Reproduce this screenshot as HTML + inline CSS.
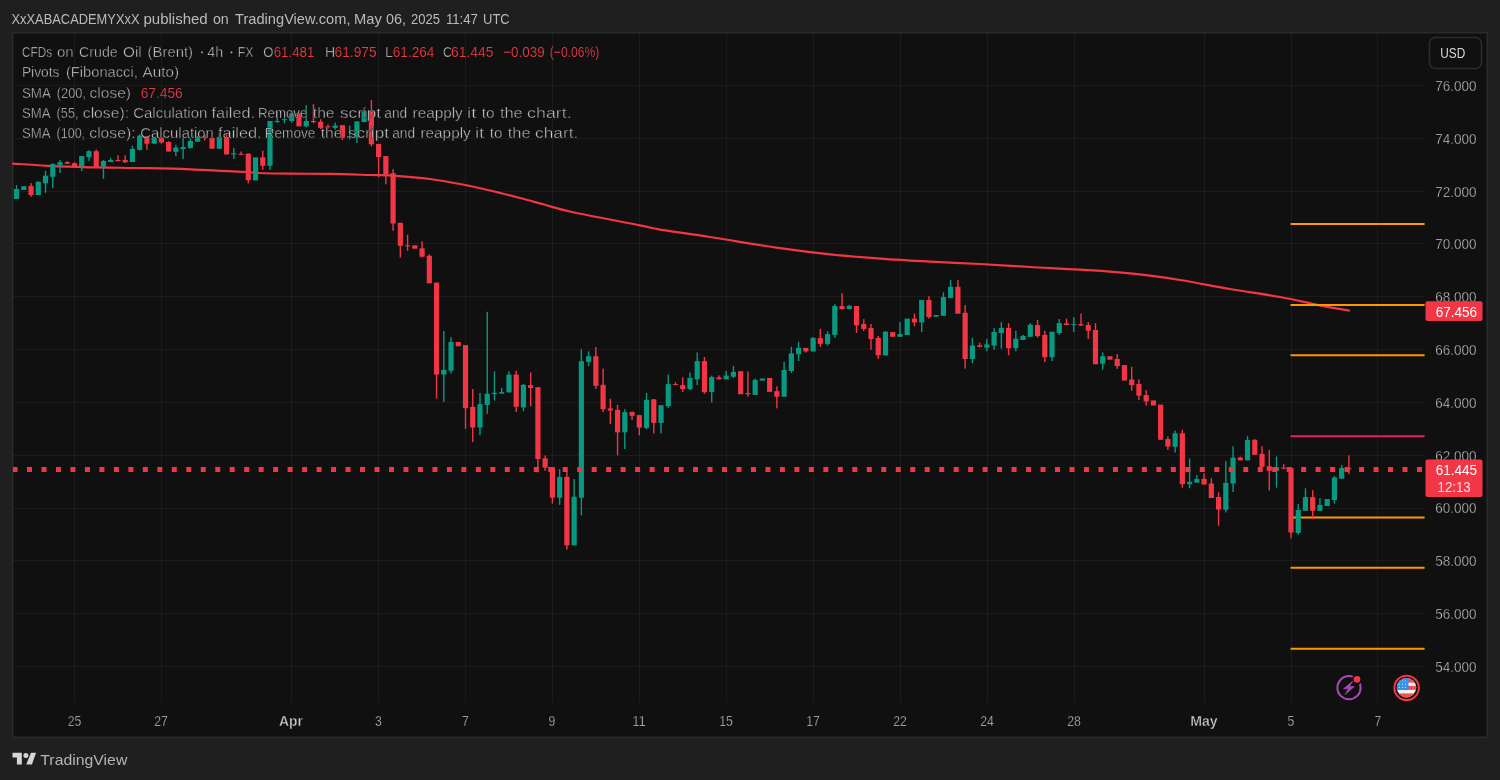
<!DOCTYPE html>
<html><head><meta charset="utf-8">
<style>
html,body{margin:0;padding:0;}
body{width:1500px;height:780px;background:#1f1f1f;position:relative;overflow:hidden;font-family:"Liberation Sans",sans-serif;}
svg{position:absolute;left:0;top:0;will-change:transform;}
</style></head><body>
<svg width="1500" height="780" viewBox="0 0 1500 780">
<rect x="12.6" y="32.6" width="1474.8" height="704.8" fill="#101010" stroke="#2a2a2a" stroke-width="1.8"/>
<g stroke="rgba(242,242,242,0.05)" stroke-width="1"><line x1="74.5" y1="33" x2="74.5" y2="703" /><line x1="161.5" y1="33" x2="161.5" y2="703" /><line x1="291.5" y1="33" x2="291.5" y2="703" /><line x1="378.5" y1="33" x2="378.5" y2="703" /><line x1="465.5" y1="33" x2="465.5" y2="703" /><line x1="552.5" y1="33" x2="552.5" y2="703" /><line x1="639.5" y1="33" x2="639.5" y2="703" /><line x1="726.5" y1="33" x2="726.5" y2="703" /><line x1="813.5" y1="33" x2="813.5" y2="703" /><line x1="900.5" y1="33" x2="900.5" y2="703" /><line x1="987.5" y1="33" x2="987.5" y2="703" /><line x1="1074.5" y1="33" x2="1074.5" y2="703" /><line x1="1204.5" y1="33" x2="1204.5" y2="703" /><line x1="1291.5" y1="33" x2="1291.5" y2="703" /><line x1="1377.5" y1="33" x2="1377.5" y2="703" /><line x1="13" y1="85.5" x2="1424" y2="85.5" /><line x1="13" y1="138.5" x2="1424" y2="138.5" /><line x1="13" y1="191.5" x2="1424" y2="191.5" /><line x1="13" y1="243.5" x2="1424" y2="243.5" /><line x1="13" y1="296.5" x2="1424" y2="296.5" /><line x1="13" y1="349.5" x2="1424" y2="349.5" /><line x1="13" y1="402.5" x2="1424" y2="402.5" /><line x1="13" y1="455.5" x2="1424" y2="455.5" /><line x1="13" y1="508.5" x2="1424" y2="508.5" /><line x1="13" y1="560.5" x2="1424" y2="560.5" /><line x1="13" y1="613.5" x2="1424" y2="613.5" /><line x1="13" y1="666.5" x2="1424" y2="666.5" /></g>
<path d="M13,163.6 C18.83,163.97 33.72,165.17 48,165.8 C62.28,166.43 83.92,167.03 98.7,167.4 C113.48,167.77 121.48,167.68 136.7,168 C151.92,168.32 171.83,168.63 190,169.3 C208.17,169.97 234.30,171.38 245.7,172 C257.10,172.62 250.80,172.72 258.4,173 C266.00,173.28 279.48,173.55 291.3,173.7 C303.12,173.85 316.18,173.68 329.3,173.9 C342.42,174.12 358.88,174.68 370,175 C381.12,175.32 386.00,175.13 396,175.8 C406.00,176.47 419.33,177.63 430,179 C440.67,180.37 450.00,182.08 460,184 C470.00,185.92 480.00,188.17 490,190.5 C500.00,192.83 510.83,195.62 520,198 C529.17,200.38 536.33,202.47 545,204.8 C553.67,207.13 556.17,208.57 572,212 C587.83,215.43 625.33,222.47 640,225.4 C654.67,228.33 648.33,227.67 660,229.6 C671.67,231.53 690.00,233.90 710,237 C730.00,240.10 760.00,245.30 780,248.2 C800.00,251.10 813.33,252.67 830,254.4 C846.67,256.13 863.33,257.40 880,258.6 C896.67,259.80 913.33,260.70 930,261.6 C946.67,262.50 963.33,263.10 980,264 C996.67,264.90 1013.33,266.05 1030,267 C1046.67,267.95 1063.33,268.63 1080,269.7 C1096.67,270.77 1113.33,271.68 1130,273.4 C1146.67,275.12 1163.33,277.40 1180,280 C1196.67,282.60 1213.33,286.17 1230,289 C1246.67,291.83 1265.00,294.27 1280,297 C1295.00,299.73 1308.50,303.13 1320,305.4 C1331.50,307.67 1344.17,309.73 1349,310.6" fill="none" stroke="#f23645" stroke-width="2.2" stroke-linejoin="round" stroke-linecap="round"/>
<line x1="1290.5" y1="224" x2="1424.6" y2="224" stroke="#ff9800" stroke-width="2"/><line x1="1290.5" y1="305" x2="1424.6" y2="305" stroke="#ff9800" stroke-width="2"/><line x1="1290.5" y1="355.2" x2="1424.6" y2="355.2" stroke="#ff9800" stroke-width="2"/><line x1="1290.5" y1="436.3" x2="1424.6" y2="436.3" stroke="#e91e63" stroke-width="2"/><line x1="1290.5" y1="517.4" x2="1424.6" y2="517.4" stroke="#ff9800" stroke-width="2"/><line x1="1290.5" y1="567.7" x2="1424.6" y2="567.7" stroke="#ff9800" stroke-width="2"/><line x1="1290.5" y1="648.7" x2="1424.6" y2="648.7" stroke="#ff9800" stroke-width="2"/>
<rect x="15.87" y="185.1" width="1.4" height="13.9" fill="#089981"/><rect x="13.97" y="189.0" width="5.2" height="10.0" fill="#089981"/><rect x="21.21" y="186.2" width="5.2" height="3.8" fill="#089981"/><rect x="30.35" y="183.1" width="1.4" height="13.8" fill="#f23645"/><rect x="28.45" y="186.1" width="5.2" height="8.9" fill="#f23645"/><rect x="37.59" y="181.2" width="1.4" height="13.8" fill="#089981"/><rect x="35.69" y="181.9" width="5.2" height="13.1" fill="#089981"/><rect x="44.83" y="170.9" width="1.4" height="21.9" fill="#089981"/><rect x="42.93" y="175.7" width="5.2" height="7.6" fill="#089981"/><rect x="52.07" y="163.2" width="1.4" height="24.8" fill="#089981"/><rect x="50.17" y="164.0" width="5.2" height="12.8" fill="#089981"/><rect x="59.32" y="160.0" width="1.4" height="13.0" fill="#089981"/><rect x="57.42" y="162.2" width="5.2" height="2.8" fill="#089981"/><rect x="66.56" y="161.2" width="1.4" height="2.8" fill="#f23645"/><rect x="64.66" y="162.2" width="5.2" height="1.6" fill="#f23645"/><rect x="73.80" y="162.2" width="1.4" height="4.0" fill="#f23645"/><rect x="71.90" y="163.2" width="5.2" height="3.0" fill="#f23645"/><rect x="81.04" y="155.8" width="1.4" height="15.2" fill="#089981"/><rect x="79.14" y="156.2" width="5.2" height="10.0" fill="#089981"/><rect x="88.28" y="150.2" width="1.4" height="10.8" fill="#089981"/><rect x="86.38" y="151.2" width="5.2" height="6.0" fill="#089981"/><rect x="95.52" y="149.5" width="1.4" height="17.3" fill="#f23645"/><rect x="93.62" y="151.2" width="5.2" height="15.6" fill="#f23645"/><rect x="102.76" y="160.0" width="1.4" height="18.8" fill="#089981"/><rect x="100.86" y="161.0" width="5.2" height="5.8" fill="#089981"/><rect x="110.00" y="158.0" width="1.4" height="4.0" fill="#089981"/><rect x="108.10" y="160.0" width="5.2" height="2.0" fill="#089981"/><rect x="117.24" y="155.2" width="1.4" height="6.0" fill="#f23645"/><rect x="115.34" y="160.0" width="5.2" height="1.2" fill="#f23645"/><rect x="124.48" y="155.2" width="1.4" height="7.8" fill="#f23645"/><rect x="122.59" y="160.0" width="5.2" height="2.2" fill="#f23645"/><rect x="131.73" y="145.8" width="1.4" height="16.2" fill="#089981"/><rect x="129.83" y="148.8" width="5.2" height="13.2" fill="#089981"/><rect x="138.97" y="134.2" width="1.4" height="16.4" fill="#089981"/><rect x="137.07" y="135.6" width="5.2" height="14.2" fill="#089981"/><rect x="146.21" y="136.0" width="1.4" height="13.8" fill="#f23645"/><rect x="144.31" y="137.1" width="5.2" height="6.6" fill="#f23645"/><rect x="151.55" y="137.7" width="5.2" height="6.0" fill="#089981"/><rect x="160.69" y="137.5" width="1.4" height="6.2" fill="#f23645"/><rect x="158.79" y="137.5" width="5.2" height="5.0" fill="#f23645"/><rect x="167.93" y="141.2" width="1.4" height="10.3" fill="#f23645"/><rect x="166.03" y="142.0" width="5.2" height="9.5" fill="#f23645"/><rect x="175.17" y="144.8" width="1.4" height="11.4" fill="#089981"/><rect x="173.27" y="147.5" width="5.2" height="4.3" fill="#089981"/><rect x="182.41" y="137.9" width="1.4" height="21.1" fill="#089981"/><rect x="180.51" y="147.0" width="5.2" height="2.0" fill="#089981"/><rect x="189.65" y="138.3" width="1.4" height="10.4" fill="#089981"/><rect x="187.75" y="140.9" width="5.2" height="7.1" fill="#089981"/><rect x="196.89" y="136.0" width="1.4" height="5.7" fill="#089981"/><rect x="194.99" y="137.1" width="5.2" height="4.6" fill="#089981"/><rect x="204.14" y="134.5" width="1.4" height="6.1" fill="#f23645"/><rect x="202.24" y="137.1" width="5.2" height="1.0" fill="#f23645"/><rect x="209.48" y="137.9" width="5.2" height="10.8" fill="#f23645"/><rect x="218.62" y="133.0" width="1.4" height="15.7" fill="#089981"/><rect x="216.72" y="137.1" width="5.2" height="11.6" fill="#089981"/><rect x="225.86" y="134.2" width="1.4" height="20.2" fill="#f23645"/><rect x="223.96" y="137.1" width="5.2" height="17.3" fill="#f23645"/><rect x="233.10" y="147.8" width="1.4" height="11.2" fill="#089981"/><rect x="231.20" y="153.3" width="5.2" height="1.1" fill="#089981"/><rect x="240.34" y="151.5" width="1.4" height="3.3" fill="#f23645"/><rect x="238.44" y="153.8" width="5.2" height="1.0" fill="#f23645"/><rect x="247.58" y="153.6" width="1.4" height="29.7" fill="#f23645"/><rect x="245.68" y="153.6" width="5.2" height="26.6" fill="#f23645"/><rect x="252.92" y="157.3" width="5.2" height="23.1" fill="#089981"/><rect x="262.06" y="150.6" width="1.4" height="19.2" fill="#f23645"/><rect x="260.16" y="157.3" width="5.2" height="8.5" fill="#f23645"/><rect x="269.31" y="121.0" width="1.4" height="48.8" fill="#089981"/><rect x="267.40" y="121.0" width="5.2" height="44.8" fill="#089981"/><rect x="276.55" y="111.2" width="1.4" height="11.5" fill="#089981"/><rect x="274.65" y="121.0" width="5.2" height="1.1" fill="#089981"/><rect x="283.79" y="117.5" width="1.4" height="5.8" fill="#089981"/><rect x="281.89" y="119.2" width="5.2" height="1.0" fill="#089981"/><rect x="291.03" y="112.3" width="1.4" height="10.4" fill="#089981"/><rect x="289.13" y="113.5" width="5.2" height="7.5" fill="#089981"/><rect x="296.37" y="113.2" width="5.2" height="13.2" fill="#f23645"/><rect x="305.51" y="105.2" width="1.4" height="22.1" fill="#089981"/><rect x="303.61" y="121.0" width="5.2" height="5.4" fill="#089981"/><rect x="312.75" y="104.2" width="1.4" height="19.1" fill="#f23645"/><rect x="310.85" y="121.0" width="5.2" height="1.1" fill="#f23645"/><rect x="319.99" y="119.2" width="1.4" height="9.8" fill="#f23645"/><rect x="318.09" y="121.8" width="5.2" height="6.1" fill="#f23645"/><rect x="327.23" y="124.4" width="1.4" height="4.1" fill="#f23645"/><rect x="325.33" y="126.2" width="5.2" height="1.0" fill="#f23645"/><rect x="334.47" y="122.5" width="1.4" height="7.1" fill="#089981"/><rect x="332.57" y="125.6" width="5.2" height="2.3" fill="#089981"/><rect x="341.71" y="125.2" width="1.4" height="14.8" fill="#f23645"/><rect x="339.81" y="125.2" width="5.2" height="12.5" fill="#f23645"/><rect x="348.96" y="125.6" width="1.4" height="13.8" fill="#089981"/><rect x="347.06" y="136.0" width="5.2" height="1.7" fill="#089981"/><rect x="356.20" y="121.0" width="1.4" height="21.9" fill="#089981"/><rect x="354.30" y="121.5" width="5.2" height="16.0" fill="#089981"/><rect x="363.44" y="107.7" width="1.4" height="14.4" fill="#089981"/><rect x="361.54" y="111.2" width="5.2" height="10.9" fill="#089981"/><rect x="370.68" y="100.2" width="1.4" height="46.3" fill="#f23645"/><rect x="368.78" y="111.2" width="5.2" height="33.1" fill="#f23645"/><rect x="377.92" y="143.9" width="1.4" height="33.4" fill="#f23645"/><rect x="376.02" y="143.9" width="5.2" height="13.1" fill="#f23645"/><rect x="385.16" y="156.1" width="1.4" height="28.2" fill="#f23645"/><rect x="383.26" y="156.1" width="5.2" height="18.3" fill="#f23645"/><rect x="392.40" y="169.2" width="1.4" height="61.6" fill="#f23645"/><rect x="390.50" y="173.2" width="5.2" height="50.3" fill="#f23645"/><rect x="399.64" y="222.8" width="1.4" height="34.7" fill="#f23645"/><rect x="397.74" y="222.8" width="5.2" height="23.0" fill="#f23645"/><rect x="406.88" y="234.7" width="1.4" height="16.1" fill="#f23645"/><rect x="404.98" y="245.3" width="5.2" height="1.0" fill="#f23645"/><rect x="412.22" y="245.3" width="5.2" height="3.4" fill="#f23645"/><rect x="421.37" y="241.3" width="1.4" height="16.2" fill="#f23645"/><rect x="419.47" y="248.3" width="5.2" height="8.4" fill="#f23645"/><rect x="428.61" y="254.2" width="1.4" height="29.1" fill="#f23645"/><rect x="426.71" y="255.8" width="5.2" height="27.5" fill="#f23645"/><rect x="435.85" y="282.6" width="1.4" height="115.9" fill="#f23645"/><rect x="433.95" y="282.6" width="5.2" height="92.0" fill="#f23645"/><rect x="443.09" y="331.0" width="1.4" height="70.8" fill="#089981"/><rect x="441.19" y="369.8" width="5.2" height="4.8" fill="#089981"/><rect x="450.33" y="337.1" width="1.4" height="36.4" fill="#089981"/><rect x="448.43" y="341.9" width="5.2" height="28.8" fill="#089981"/><rect x="455.67" y="341.9" width="5.2" height="4.4" fill="#f23645"/><rect x="464.81" y="345.2" width="1.4" height="83.6" fill="#f23645"/><rect x="462.91" y="345.2" width="5.2" height="63.0" fill="#f23645"/><rect x="472.05" y="389.0" width="1.4" height="53.0" fill="#f23645"/><rect x="470.15" y="406.9" width="5.2" height="20.6" fill="#f23645"/><rect x="479.29" y="393.0" width="1.4" height="42.2" fill="#089981"/><rect x="477.39" y="404.1" width="5.2" height="23.4" fill="#089981"/><rect x="486.53" y="311.8" width="1.4" height="102.1" fill="#089981"/><rect x="484.63" y="393.8" width="5.2" height="11.2" fill="#089981"/><rect x="493.78" y="371.3" width="1.4" height="29.3" fill="#089981"/><rect x="491.88" y="392.8" width="5.2" height="1.2" fill="#089981"/><rect x="501.02" y="387.8" width="1.4" height="5.8" fill="#089981"/><rect x="499.12" y="392.1" width="5.2" height="1.5" fill="#089981"/><rect x="508.26" y="371.3" width="1.4" height="21.1" fill="#089981"/><rect x="506.36" y="374.6" width="5.2" height="17.8" fill="#089981"/><rect x="515.50" y="370.7" width="1.4" height="41.3" fill="#f23645"/><rect x="513.60" y="374.6" width="5.2" height="32.2" fill="#f23645"/><rect x="522.74" y="384.0" width="1.4" height="27.2" fill="#089981"/><rect x="520.84" y="384.9" width="5.2" height="22.5" fill="#089981"/><rect x="529.98" y="372.4" width="1.4" height="33.9" fill="#f23645"/><rect x="528.08" y="385.1" width="5.2" height="2.9" fill="#f23645"/><rect x="537.22" y="387.2" width="1.4" height="85.2" fill="#f23645"/><rect x="535.32" y="387.2" width="5.2" height="71.9" fill="#f23645"/><rect x="544.46" y="455.5" width="1.4" height="15.5" fill="#f23645"/><rect x="542.56" y="458.4" width="5.2" height="9.3" fill="#f23645"/><rect x="551.70" y="467.2" width="1.4" height="36.4" fill="#f23645"/><rect x="549.80" y="467.2" width="5.2" height="30.5" fill="#f23645"/><rect x="558.94" y="469.2" width="1.4" height="35.6" fill="#089981"/><rect x="557.04" y="477.1" width="5.2" height="20.6" fill="#089981"/><rect x="566.19" y="471.0" width="1.4" height="78.7" fill="#f23645"/><rect x="564.29" y="476.8" width="5.2" height="68.5" fill="#f23645"/><rect x="573.43" y="479.0" width="1.4" height="66.3" fill="#089981"/><rect x="571.53" y="496.7" width="5.2" height="48.6" fill="#089981"/><rect x="580.67" y="349.2" width="1.4" height="166.2" fill="#089981"/><rect x="578.77" y="361.2" width="5.2" height="136.5" fill="#089981"/><rect x="587.91" y="351.3" width="1.4" height="14.8" fill="#089981"/><rect x="586.01" y="356.2" width="5.2" height="5.7" fill="#089981"/><rect x="595.15" y="347.0" width="1.4" height="42.1" fill="#f23645"/><rect x="593.25" y="356.2" width="5.2" height="29.6" fill="#f23645"/><rect x="602.39" y="368.6" width="1.4" height="43.5" fill="#f23645"/><rect x="600.49" y="384.8" width="5.2" height="24.4" fill="#f23645"/><rect x="609.63" y="398.8" width="1.4" height="25.1" fill="#f23645"/><rect x="607.73" y="408.4" width="5.2" height="2.2" fill="#f23645"/><rect x="616.87" y="404.7" width="1.4" height="50.6" fill="#f23645"/><rect x="614.97" y="409.9" width="5.2" height="22.4" fill="#f23645"/><rect x="624.11" y="409.2" width="1.4" height="39.8" fill="#089981"/><rect x="622.21" y="412.1" width="5.2" height="20.2" fill="#089981"/><rect x="631.36" y="411.4" width="1.4" height="8.5" fill="#f23645"/><rect x="629.46" y="412.1" width="5.2" height="3.7" fill="#f23645"/><rect x="638.60" y="415.1" width="1.4" height="20.2" fill="#f23645"/><rect x="636.70" y="415.1" width="5.2" height="12.5" fill="#f23645"/><rect x="645.84" y="393.0" width="1.4" height="36.4" fill="#089981"/><rect x="643.94" y="399.9" width="5.2" height="28.0" fill="#089981"/><rect x="653.08" y="399.3" width="1.4" height="34.2" fill="#f23645"/><rect x="651.18" y="399.3" width="5.2" height="23.6" fill="#f23645"/><rect x="660.32" y="405.2" width="1.4" height="28.3" fill="#089981"/><rect x="658.42" y="405.2" width="5.2" height="17.7" fill="#089981"/><rect x="667.56" y="374.5" width="1.4" height="33.6" fill="#089981"/><rect x="665.66" y="384.1" width="5.2" height="22.1" fill="#089981"/><rect x="674.80" y="382.2" width="1.4" height="2.9" fill="#f23645"/><rect x="672.90" y="384.1" width="5.2" height="1.0" fill="#f23645"/><rect x="682.04" y="377.2" width="1.4" height="14.7" fill="#f23645"/><rect x="680.14" y="385.1" width="5.2" height="3.9" fill="#f23645"/><rect x="689.28" y="372.5" width="1.4" height="17.5" fill="#089981"/><rect x="687.38" y="378.0" width="5.2" height="11.1" fill="#089981"/><rect x="696.52" y="352.4" width="1.4" height="32.7" fill="#089981"/><rect x="694.62" y="361.1" width="5.2" height="18.2" fill="#089981"/><rect x="703.76" y="357.0" width="1.4" height="36.8" fill="#f23645"/><rect x="701.87" y="361.1" width="5.2" height="31.1" fill="#f23645"/><rect x="711.01" y="375.6" width="1.4" height="26.9" fill="#089981"/><rect x="709.11" y="377.1" width="5.2" height="14.8" fill="#089981"/><rect x="718.25" y="375.3" width="1.4" height="4.0" fill="#f23645"/><rect x="716.35" y="377.4" width="5.2" height="1.9" fill="#f23645"/><rect x="725.49" y="370.9" width="1.4" height="8.4" fill="#089981"/><rect x="723.59" y="375.6" width="5.2" height="3.7" fill="#089981"/><rect x="732.73" y="366.0" width="1.4" height="12.0" fill="#089981"/><rect x="730.83" y="372.0" width="5.2" height="4.7" fill="#089981"/><rect x="738.07" y="371.2" width="5.2" height="23.1" fill="#f23645"/><rect x="747.21" y="371.4" width="1.4" height="25.3" fill="#f23645"/><rect x="745.31" y="393.0" width="5.2" height="1.1" fill="#f23645"/><rect x="754.45" y="378.5" width="1.4" height="16.4" fill="#089981"/><rect x="752.55" y="380.0" width="5.2" height="14.9" fill="#089981"/><rect x="759.79" y="378.5" width="5.2" height="2.2" fill="#089981"/><rect x="767.03" y="378.0" width="5.2" height="13.9" fill="#f23645"/><rect x="776.17" y="386.2" width="1.4" height="22.1" fill="#f23645"/><rect x="774.27" y="391.1" width="5.2" height="5.6" fill="#f23645"/><rect x="783.42" y="361.8" width="1.4" height="34.9" fill="#089981"/><rect x="781.52" y="370.0" width="5.2" height="26.7" fill="#089981"/><rect x="790.66" y="346.8" width="1.4" height="26.0" fill="#089981"/><rect x="788.76" y="353.4" width="5.2" height="17.6" fill="#089981"/><rect x="797.90" y="341.8" width="1.4" height="19.2" fill="#089981"/><rect x="796.00" y="347.9" width="5.2" height="6.4" fill="#089981"/><rect x="805.14" y="347.9" width="1.4" height="4.7" fill="#f23645"/><rect x="803.24" y="347.9" width="5.2" height="3.5" fill="#f23645"/><rect x="812.38" y="337.0" width="1.4" height="14.4" fill="#089981"/><rect x="810.48" y="337.9" width="5.2" height="13.5" fill="#089981"/><rect x="819.62" y="328.9" width="1.4" height="17.9" fill="#f23645"/><rect x="817.72" y="338.1" width="5.2" height="5.8" fill="#f23645"/><rect x="826.86" y="331.2" width="1.4" height="14.4" fill="#089981"/><rect x="824.96" y="334.1" width="5.2" height="9.8" fill="#089981"/><rect x="834.10" y="304.1" width="1.4" height="33.8" fill="#089981"/><rect x="832.20" y="306.0" width="5.2" height="28.9" fill="#089981"/><rect x="841.34" y="293.1" width="1.4" height="16.7" fill="#f23645"/><rect x="839.44" y="306.0" width="5.2" height="3.0" fill="#f23645"/><rect x="848.58" y="304.9" width="1.4" height="4.1" fill="#089981"/><rect x="846.68" y="305.8" width="5.2" height="3.2" fill="#089981"/><rect x="855.83" y="306.0" width="1.4" height="26.9" fill="#f23645"/><rect x="853.93" y="306.0" width="5.2" height="19.4" fill="#f23645"/><rect x="863.07" y="319.1" width="1.4" height="11.9" fill="#f23645"/><rect x="861.17" y="324.0" width="5.2" height="4.9" fill="#f23645"/><rect x="870.31" y="324.0" width="1.4" height="25.7" fill="#f23645"/><rect x="868.41" y="328.0" width="5.2" height="11.0" fill="#f23645"/><rect x="877.55" y="335.8" width="1.4" height="23.1" fill="#f23645"/><rect x="875.65" y="337.9" width="5.2" height="17.3" fill="#f23645"/><rect x="884.79" y="331.0" width="1.4" height="24.4" fill="#089981"/><rect x="882.89" y="331.8" width="5.2" height="23.6" fill="#089981"/><rect x="890.13" y="332.1" width="5.2" height="4.7" fill="#f23645"/><rect x="899.27" y="322.2" width="1.4" height="14.6" fill="#089981"/><rect x="897.37" y="334.0" width="5.2" height="2.8" fill="#089981"/><rect x="904.61" y="318.6" width="5.2" height="16.4" fill="#089981"/><rect x="913.75" y="313.5" width="1.4" height="12.8" fill="#f23645"/><rect x="911.85" y="318.6" width="5.2" height="3.8" fill="#f23645"/><rect x="921.00" y="300.0" width="1.4" height="32.1" fill="#089981"/><rect x="919.10" y="300.0" width="5.2" height="22.4" fill="#089981"/><rect x="928.24" y="296.2" width="1.4" height="22.4" fill="#f23645"/><rect x="926.34" y="300.0" width="5.2" height="17.1" fill="#f23645"/><rect x="933.58" y="315.0" width="5.2" height="1.7" fill="#089981"/><rect x="942.72" y="292.3" width="1.4" height="23.5" fill="#089981"/><rect x="940.82" y="297.1" width="5.2" height="18.7" fill="#089981"/><rect x="949.96" y="279.9" width="1.4" height="18.2" fill="#089981"/><rect x="948.06" y="286.8" width="5.2" height="11.3" fill="#089981"/><rect x="957.20" y="279.9" width="1.4" height="33.8" fill="#f23645"/><rect x="955.30" y="286.8" width="5.2" height="26.9" fill="#f23645"/><rect x="964.44" y="305.1" width="1.4" height="63.5" fill="#f23645"/><rect x="962.54" y="312.8" width="5.2" height="46.2" fill="#f23645"/><rect x="971.68" y="337.8" width="1.4" height="25.4" fill="#089981"/><rect x="969.78" y="345.5" width="5.2" height="13.5" fill="#089981"/><rect x="978.92" y="342.7" width="1.4" height="4.7" fill="#f23645"/><rect x="977.02" y="345.3" width="5.2" height="1.5" fill="#f23645"/><rect x="986.16" y="338.8" width="1.4" height="12.5" fill="#089981"/><rect x="984.26" y="344.4" width="5.2" height="3.3" fill="#089981"/><rect x="993.40" y="327.9" width="1.4" height="21.8" fill="#089981"/><rect x="991.50" y="332.0" width="5.2" height="13.6" fill="#089981"/><rect x="1000.65" y="322.1" width="1.4" height="26.6" fill="#089981"/><rect x="998.75" y="327.9" width="5.2" height="5.1" fill="#089981"/><rect x="1007.89" y="323.1" width="1.4" height="32.3" fill="#f23645"/><rect x="1005.99" y="327.9" width="5.2" height="20.3" fill="#f23645"/><rect x="1015.13" y="330.8" width="1.4" height="20.5" fill="#089981"/><rect x="1013.23" y="338.8" width="5.2" height="9.4" fill="#089981"/><rect x="1022.37" y="334.9" width="1.4" height="5.1" fill="#089981"/><rect x="1020.47" y="335.9" width="5.2" height="4.1" fill="#089981"/><rect x="1029.61" y="323.1" width="1.4" height="13.8" fill="#089981"/><rect x="1027.71" y="324.8" width="5.2" height="12.1" fill="#089981"/><rect x="1036.85" y="320.0" width="1.4" height="17.7" fill="#f23645"/><rect x="1034.95" y="325.1" width="5.2" height="11.0" fill="#f23645"/><rect x="1044.09" y="330.8" width="1.4" height="31.3" fill="#f23645"/><rect x="1042.19" y="334.9" width="5.2" height="22.3" fill="#f23645"/><rect x="1051.33" y="331.8" width="1.4" height="29.2" fill="#089981"/><rect x="1049.43" y="331.8" width="5.2" height="25.4" fill="#089981"/><rect x="1058.57" y="319.0" width="1.4" height="15.9" fill="#089981"/><rect x="1056.67" y="323.1" width="5.2" height="9.9" fill="#089981"/><rect x="1065.81" y="318.5" width="1.4" height="6.6" fill="#f23645"/><rect x="1063.91" y="323.4" width="5.2" height="1.7" fill="#f23645"/><rect x="1073.06" y="317.4" width="1.4" height="14.6" fill="#089981"/><rect x="1071.16" y="324.1" width="5.2" height="1.0" fill="#089981"/><rect x="1080.30" y="313.5" width="1.4" height="12.7" fill="#f23645"/><rect x="1078.40" y="324.1" width="5.2" height="1.3" fill="#f23645"/><rect x="1087.54" y="322.1" width="1.4" height="16.9" fill="#f23645"/><rect x="1085.64" y="325.1" width="5.2" height="5.7" fill="#f23645"/><rect x="1094.78" y="323.1" width="1.4" height="41.1" fill="#f23645"/><rect x="1092.88" y="330.0" width="5.2" height="34.2" fill="#f23645"/><rect x="1102.02" y="352.4" width="1.4" height="17.2" fill="#089981"/><rect x="1100.12" y="356.2" width="5.2" height="7.5" fill="#089981"/><rect x="1107.36" y="356.2" width="5.2" height="3.5" fill="#f23645"/><rect x="1116.50" y="354.1" width="1.4" height="14.8" fill="#f23645"/><rect x="1114.60" y="359.0" width="5.2" height="7.1" fill="#f23645"/><rect x="1121.84" y="365.1" width="5.2" height="15.5" fill="#f23645"/><rect x="1130.98" y="366.8" width="1.4" height="24.0" fill="#f23645"/><rect x="1129.08" y="379.5" width="5.2" height="5.6" fill="#f23645"/><rect x="1138.22" y="379.5" width="1.4" height="20.5" fill="#f23645"/><rect x="1136.33" y="384.0" width="5.2" height="11.7" fill="#f23645"/><rect x="1145.47" y="390.1" width="1.4" height="15.5" fill="#f23645"/><rect x="1143.57" y="395.0" width="5.2" height="6.4" fill="#f23645"/><rect x="1150.81" y="400.4" width="5.2" height="5.2" fill="#f23645"/><rect x="1158.05" y="404.6" width="5.2" height="35.2" fill="#f23645"/><rect x="1167.19" y="436.4" width="1.4" height="13.5" fill="#f23645"/><rect x="1165.29" y="439.1" width="5.2" height="7.4" fill="#f23645"/><rect x="1174.43" y="430.7" width="1.4" height="21.9" fill="#089981"/><rect x="1172.53" y="433.3" width="5.2" height="13.5" fill="#089981"/><rect x="1181.67" y="429.7" width="1.4" height="57.9" fill="#f23645"/><rect x="1179.77" y="433.3" width="5.2" height="50.9" fill="#f23645"/><rect x="1188.91" y="458.4" width="1.4" height="29.9" fill="#089981"/><rect x="1187.01" y="481.8" width="5.2" height="2.4" fill="#089981"/><rect x="1196.15" y="475.1" width="1.4" height="7.5" fill="#089981"/><rect x="1194.25" y="479.1" width="5.2" height="3.5" fill="#089981"/><rect x="1203.39" y="473.2" width="1.4" height="11.3" fill="#f23645"/><rect x="1201.49" y="478.8" width="5.2" height="5.7" fill="#f23645"/><rect x="1210.63" y="478.2" width="1.4" height="19.8" fill="#f23645"/><rect x="1208.73" y="483.5" width="5.2" height="14.5" fill="#f23645"/><rect x="1217.88" y="492.3" width="1.4" height="33.4" fill="#f23645"/><rect x="1215.98" y="497.0" width="5.2" height="12.5" fill="#f23645"/><rect x="1225.12" y="461.1" width="1.4" height="51.4" fill="#089981"/><rect x="1223.22" y="482.9" width="5.2" height="26.9" fill="#089981"/><rect x="1232.36" y="446.3" width="1.4" height="45.7" fill="#089981"/><rect x="1230.46" y="457.6" width="5.2" height="25.9" fill="#089981"/><rect x="1239.60" y="456.6" width="1.4" height="3.7" fill="#f23645"/><rect x="1237.70" y="457.6" width="5.2" height="2.7" fill="#f23645"/><rect x="1246.84" y="436.2" width="1.4" height="24.1" fill="#089981"/><rect x="1244.94" y="440.1" width="5.2" height="20.2" fill="#089981"/><rect x="1254.08" y="439.2" width="1.4" height="15.6" fill="#f23645"/><rect x="1252.18" y="439.8" width="5.2" height="15.0" fill="#f23645"/><rect x="1261.32" y="446.2" width="1.4" height="20.7" fill="#f23645"/><rect x="1259.42" y="453.8" width="5.2" height="13.1" fill="#f23645"/><rect x="1268.56" y="450.0" width="1.4" height="40.4" fill="#f23645"/><rect x="1266.66" y="466.2" width="5.2" height="4.6" fill="#f23645"/><rect x="1275.80" y="456.5" width="1.4" height="31.2" fill="#089981"/><rect x="1273.90" y="467.3" width="5.2" height="3.5" fill="#089981"/><rect x="1283.04" y="464.2" width="1.4" height="4.6" fill="#f23645"/><rect x="1281.14" y="467.7" width="5.2" height="1.1" fill="#f23645"/><rect x="1290.29" y="467.7" width="1.4" height="70.7" fill="#f23645"/><rect x="1288.39" y="468.0" width="5.2" height="64.5" fill="#f23645"/><rect x="1297.53" y="504.0" width="1.4" height="30.7" fill="#089981"/><rect x="1295.63" y="510.0" width="5.2" height="23.0" fill="#089981"/><rect x="1304.77" y="488.3" width="1.4" height="22.5" fill="#089981"/><rect x="1302.87" y="497.1" width="5.2" height="13.7" fill="#089981"/><rect x="1312.01" y="490.2" width="1.4" height="29.0" fill="#f23645"/><rect x="1310.11" y="497.1" width="5.2" height="13.7" fill="#f23645"/><rect x="1319.25" y="498.1" width="1.4" height="12.7" fill="#089981"/><rect x="1317.35" y="504.9" width="5.2" height="5.9" fill="#089981"/><rect x="1324.59" y="499.0" width="5.2" height="7.0" fill="#089981"/><rect x="1333.73" y="476.0" width="1.4" height="27.7" fill="#089981"/><rect x="1331.83" y="477.5" width="5.2" height="22.5" fill="#089981"/><rect x="1340.97" y="465.1" width="1.4" height="13.6" fill="#089981"/><rect x="1339.07" y="468.0" width="5.2" height="10.7" fill="#089981"/><rect x="1348.21" y="455.4" width="1.4" height="18.8" fill="#f23645"/><rect x="1346.31" y="468.4" width="5.2" height="1.0" fill="#f23645"/>
<g fill="#f23645"><rect x="13.00" y="467" width="4.52" height="5"/><rect x="27.00" y="467" width="5.00" height="5"/><rect x="41.48" y="467" width="5.00" height="5"/><rect x="55.96" y="467" width="5.00" height="5"/><rect x="70.44" y="467" width="5.00" height="5"/><rect x="84.92" y="467" width="5.00" height="5"/><rect x="99.39" y="467" width="5.00" height="5"/><rect x="113.87" y="467" width="5.00" height="5"/><rect x="128.35" y="467" width="5.00" height="5"/><rect x="142.83" y="467" width="5.00" height="5"/><rect x="157.31" y="467" width="5.00" height="5"/><rect x="171.79" y="467" width="5.00" height="5"/><rect x="186.27" y="467" width="5.00" height="5"/><rect x="200.75" y="467" width="5.00" height="5"/><rect x="215.23" y="467" width="5.00" height="5"/><rect x="229.71" y="467" width="5.00" height="5"/><rect x="244.19" y="467" width="5.00" height="5"/><rect x="258.66" y="467" width="5.00" height="5"/><rect x="273.14" y="467" width="5.00" height="5"/><rect x="287.62" y="467" width="5.00" height="5"/><rect x="302.10" y="467" width="5.00" height="5"/><rect x="316.58" y="467" width="5.00" height="5"/><rect x="331.06" y="467" width="5.00" height="5"/><rect x="345.54" y="467" width="5.00" height="5"/><rect x="360.02" y="467" width="5.00" height="5"/><rect x="374.50" y="467" width="5.00" height="5"/><rect x="388.97" y="467" width="5.00" height="5"/><rect x="403.45" y="467" width="5.00" height="5"/><rect x="417.93" y="467" width="5.00" height="5"/><rect x="432.41" y="467" width="5.00" height="5"/><rect x="446.89" y="467" width="5.00" height="5"/><rect x="461.37" y="467" width="5.00" height="5"/><rect x="475.85" y="467" width="5.00" height="5"/><rect x="490.33" y="467" width="5.00" height="5"/><rect x="504.81" y="467" width="5.00" height="5"/><rect x="519.29" y="467" width="5.00" height="5"/><rect x="533.76" y="467" width="5.00" height="5"/><rect x="548.24" y="467" width="5.00" height="5"/><rect x="562.72" y="467" width="5.00" height="5"/><rect x="577.20" y="467" width="5.00" height="5"/><rect x="591.68" y="467" width="5.00" height="5"/><rect x="606.16" y="467" width="5.00" height="5"/><rect x="620.64" y="467" width="5.00" height="5"/><rect x="635.12" y="467" width="5.00" height="5"/><rect x="649.60" y="467" width="5.00" height="5"/><rect x="664.08" y="467" width="5.00" height="5"/><rect x="678.55" y="467" width="5.00" height="5"/><rect x="693.03" y="467" width="5.00" height="5"/><rect x="707.51" y="467" width="5.00" height="5"/><rect x="721.99" y="467" width="5.00" height="5"/><rect x="736.47" y="467" width="5.00" height="5"/><rect x="750.95" y="467" width="5.00" height="5"/><rect x="765.43" y="467" width="5.00" height="5"/><rect x="779.91" y="467" width="5.00" height="5"/><rect x="794.39" y="467" width="5.00" height="5"/><rect x="808.87" y="467" width="5.00" height="5"/><rect x="823.34" y="467" width="5.00" height="5"/><rect x="837.82" y="467" width="5.00" height="5"/><rect x="852.30" y="467" width="5.00" height="5"/><rect x="866.78" y="467" width="5.00" height="5"/><rect x="881.26" y="467" width="5.00" height="5"/><rect x="895.74" y="467" width="5.00" height="5"/><rect x="910.22" y="467" width="5.00" height="5"/><rect x="924.70" y="467" width="5.00" height="5"/><rect x="939.18" y="467" width="5.00" height="5"/><rect x="953.66" y="467" width="5.00" height="5"/><rect x="968.13" y="467" width="5.00" height="5"/><rect x="982.61" y="467" width="5.00" height="5"/><rect x="997.09" y="467" width="5.00" height="5"/><rect x="1011.57" y="467" width="5.00" height="5"/><rect x="1026.05" y="467" width="5.00" height="5"/><rect x="1040.53" y="467" width="5.00" height="5"/><rect x="1055.01" y="467" width="5.00" height="5"/><rect x="1069.49" y="467" width="5.00" height="5"/><rect x="1083.97" y="467" width="5.00" height="5"/><rect x="1098.45" y="467" width="5.00" height="5"/><rect x="1112.92" y="467" width="5.00" height="5"/><rect x="1127.40" y="467" width="5.00" height="5"/><rect x="1141.88" y="467" width="5.00" height="5"/><rect x="1156.36" y="467" width="5.00" height="5"/><rect x="1170.84" y="467" width="5.00" height="5"/><rect x="1185.32" y="467" width="5.00" height="5"/><rect x="1199.80" y="467" width="5.00" height="5"/><rect x="1214.28" y="467" width="5.00" height="5"/><rect x="1228.76" y="467" width="5.00" height="5"/><rect x="1243.24" y="467" width="5.00" height="5"/><rect x="1257.71" y="467" width="5.00" height="5"/><rect x="1272.19" y="467" width="5.00" height="5"/><rect x="1286.67" y="467" width="5.00" height="5"/><rect x="1301.15" y="467" width="5.00" height="5"/><rect x="1315.63" y="467" width="5.00" height="5"/><rect x="1330.11" y="467" width="5.00" height="5"/><rect x="1344.59" y="467" width="5.00" height="5"/><rect x="1359.07" y="467" width="5.00" height="5"/><rect x="1373.55" y="467" width="5.00" height="5"/><rect x="1388.03" y="467" width="5.00" height="5"/><rect x="1402.50" y="467" width="5.00" height="5"/><rect x="1416.98" y="467" width="5.00" height="5"/></g>
<g font-family="Liberation Sans, sans-serif" fill="#bababa" font-size="15">
<text x="11.5" y="24" textLength="128.0" lengthAdjust="spacingAndGlyphs">XxXABACADEMYXxX</text>
<text x="143.5" y="24" textLength="64.2" lengthAdjust="spacingAndGlyphs">published</text>
<text x="212.9" y="24" textLength="15.8" lengthAdjust="spacingAndGlyphs">on</text>
<text x="235.1" y="24" textLength="115.4" lengthAdjust="spacingAndGlyphs">TradingView.com,</text>
<text x="354.1" y="24" textLength="27.8" lengthAdjust="spacingAndGlyphs">May</text>
<text x="385.9" y="24" textLength="20.0" lengthAdjust="spacingAndGlyphs">06,</text>
<text x="411.1" y="24" textLength="29.0" lengthAdjust="spacingAndGlyphs">2025</text>
<text x="445.9" y="24" textLength="32.0" lengthAdjust="spacingAndGlyphs">11:47</text>
<text x="483.1" y="24" textLength="26.6" lengthAdjust="spacingAndGlyphs">UTC</text>
</g>
<g font-family="Liberation Sans, sans-serif" fill="#cccccc" font-size="15" stroke="#101010" stroke-width="0.45">
<text x="22.0" y="57.3" textLength="30.0" lengthAdjust="spacingAndGlyphs">CFDs</text>
<text x="57.0" y="57.3" textLength="16.7" lengthAdjust="spacingAndGlyphs">on</text>
<text x="79.0" y="57.3" textLength="38.7" lengthAdjust="spacingAndGlyphs">Crude</text>
<text x="123.0" y="57.3" textLength="18.7" lengthAdjust="spacingAndGlyphs">Oil</text>
<text x="147.6" y="57.3" textLength="45.4" lengthAdjust="spacingAndGlyphs">(Brent)</text>
<text x="207.3" y="57.3" textLength="15.8" lengthAdjust="spacingAndGlyphs">4h</text>
<text x="237.7" y="57.3" textLength="15.8" lengthAdjust="spacingAndGlyphs">FX</text>
<text x="263.3" y="57.3" textLength="10.2" lengthAdjust="spacingAndGlyphs">O</text>
<text stroke-width="0.15" x="273.7" y="57.3" fill="#ea3a47" textLength="40.6" lengthAdjust="spacingAndGlyphs">61.481</text>
<text x="324.9" y="57.3" textLength="10.2" lengthAdjust="spacingAndGlyphs">H</text>
<text stroke-width="0.15" x="334.5" y="57.3" fill="#ea3a47" textLength="42.2" lengthAdjust="spacingAndGlyphs">61.975</text>
<text x="385.1" y="57.3" textLength="7.9" lengthAdjust="spacingAndGlyphs">L</text>
<text stroke-width="0.15" x="392.8" y="57.3" fill="#ea3a47" textLength="41.6" lengthAdjust="spacingAndGlyphs">61.264</text>
<text x="443.0" y="57.3" textLength="9.0" lengthAdjust="spacingAndGlyphs">C</text>
<text stroke-width="0.15" x="451.1" y="57.3" fill="#ea3a47" textLength="42.3" lengthAdjust="spacingAndGlyphs">61.445</text>
<text stroke-width="0.15" x="503.2" y="57.3" fill="#ea3a47" textLength="41.6" lengthAdjust="spacingAndGlyphs">−0.039</text>
<text stroke-width="0.15" x="549.8" y="57.3" fill="#ea3a47" textLength="49.5" lengthAdjust="spacingAndGlyphs">(−0.06%)</text>
<text x="21.9" y="77.2" textLength="37.6" lengthAdjust="spacingAndGlyphs">Pivots</text>
<text x="65.9" y="77.2" textLength="71.9" lengthAdjust="spacingAndGlyphs">(Fibonacci,</text>
<text x="142.6" y="77.2" textLength="36.5" lengthAdjust="spacingAndGlyphs">Auto)</text>
<text x="21.9" y="97.6" textLength="29.0" lengthAdjust="spacingAndGlyphs">SMA</text>
<text x="56.8" y="97.6" textLength="29.2" lengthAdjust="spacingAndGlyphs">(200,</text>
<text x="89.5" y="97.6" textLength="41.5" lengthAdjust="spacingAndGlyphs">close)</text>
<text stroke-width="0.15" x="140.7" y="97.6" fill="#ea3a47" textLength="42.1" lengthAdjust="spacingAndGlyphs">67.456</text>
<text x="22.1" y="118" textLength="28.5" lengthAdjust="spacingAndGlyphs">SMA</text>
<text x="56.6" y="118" textLength="22.0" lengthAdjust="spacingAndGlyphs">(55,</text>
<text x="82.8" y="118" textLength="46.2" lengthAdjust="spacingAndGlyphs">close):</text>
<text x="133.2" y="118" textLength="74.2" lengthAdjust="spacingAndGlyphs">Calculation</text>
<text x="211.6" y="118" textLength="43.4" lengthAdjust="spacingAndGlyphs">failed.</text>
<text x="257.9" y="118" textLength="49.5" lengthAdjust="spacingAndGlyphs">Remove</text>
<text x="312.8" y="118" textLength="21.8" lengthAdjust="spacingAndGlyphs">the</text>
<text x="340.0" y="118" textLength="41.1" lengthAdjust="spacingAndGlyphs">script</text>
<text x="384.3" y="118" textLength="22.9" lengthAdjust="spacingAndGlyphs">and</text>
<text x="412.6" y="118" textLength="50.1" lengthAdjust="spacingAndGlyphs">reapply</text>
<text x="467.0" y="118" textLength="9.3" lengthAdjust="spacingAndGlyphs">it</text>
<text x="481.7" y="118" textLength="12.8" lengthAdjust="spacingAndGlyphs">to</text>
<text x="499.9" y="118" textLength="22.9" lengthAdjust="spacingAndGlyphs">the</text>
<text x="527.1" y="118" textLength="44.5" lengthAdjust="spacingAndGlyphs">chart.</text>
<text x="22.1" y="138.2" textLength="28.5" lengthAdjust="spacingAndGlyphs">SMA</text>
<text x="56.6" y="138.2" textLength="28.5" lengthAdjust="spacingAndGlyphs">(100,</text>
<text x="89.3" y="138.2" textLength="46.2" lengthAdjust="spacingAndGlyphs">close):</text>
<text x="140.3" y="138.2" textLength="73.6" lengthAdjust="spacingAndGlyphs">Calculation</text>
<text x="218.1" y="138.2" textLength="43.4" lengthAdjust="spacingAndGlyphs">failed.</text>
<text x="264.7" y="138.2" textLength="50.6" lengthAdjust="spacingAndGlyphs">Remove</text>
<text x="320.7" y="138.2" textLength="21.8" lengthAdjust="spacingAndGlyphs">the</text>
<text x="347.9" y="138.2" textLength="41.1" lengthAdjust="spacingAndGlyphs">script</text>
<text x="392.2" y="138.2" textLength="22.9" lengthAdjust="spacingAndGlyphs">and</text>
<text x="420.5" y="138.2" textLength="50.2" lengthAdjust="spacingAndGlyphs">reapply</text>
<text x="474.9" y="138.2" textLength="9.4" lengthAdjust="spacingAndGlyphs">it</text>
<text x="489.7" y="138.2" textLength="12.7" lengthAdjust="spacingAndGlyphs">to</text>
<text x="507.8" y="138.2" textLength="22.9" lengthAdjust="spacingAndGlyphs">the</text>
<text x="535.0" y="138.2" textLength="43.4" lengthAdjust="spacingAndGlyphs">chart.</text>
<circle cx="202" cy="52.3" r="1.1"/><circle cx="231.5" cy="52.3" r="1.1"/>
</g>
<g font-family="Liberation Sans, sans-serif" fill="#cdcdcd" font-size="15" stroke="#101010" stroke-width="0.4">
<text x="1435.3" y="90.9" textLength="41.3" lengthAdjust="spacingAndGlyphs">76.000</text>
<text x="1435.3" y="143.7" textLength="41.3" lengthAdjust="spacingAndGlyphs">74.000</text>
<text x="1435.3" y="196.5" textLength="41.3" lengthAdjust="spacingAndGlyphs">72.000</text>
<text x="1435.3" y="249.3" textLength="41.3" lengthAdjust="spacingAndGlyphs">70.000</text>
<text x="1435.3" y="302.1" textLength="41.3" lengthAdjust="spacingAndGlyphs">68.000</text>
<text x="1435.3" y="354.9" textLength="41.3" lengthAdjust="spacingAndGlyphs">66.000</text>
<text x="1435.3" y="407.7" textLength="41.3" lengthAdjust="spacingAndGlyphs">64.000</text>
<text x="1435.3" y="460.5" textLength="41.3" lengthAdjust="spacingAndGlyphs">62.000</text>
<text x="1435.3" y="513.3" textLength="41.3" lengthAdjust="spacingAndGlyphs">60.000</text>
<text x="1435.3" y="566.1" textLength="41.3" lengthAdjust="spacingAndGlyphs">58.000</text>
<text x="1435.3" y="618.9" textLength="41.3" lengthAdjust="spacingAndGlyphs">56.000</text>
<text x="1435.3" y="671.7" textLength="41.3" lengthAdjust="spacingAndGlyphs">54.000</text>
</g>
<g font-family="Liberation Sans, sans-serif" fill="#cdcdcd" font-size="15" stroke="#101010" stroke-width="0.4">
<text x="67.7" y="726.4" textLength="13.6" lengthAdjust="spacingAndGlyphs">25</text>
<text x="154.2" y="726.4" textLength="13.6" lengthAdjust="spacingAndGlyphs">27</text>
<text x="279.0" y="726.4" font-weight="bold" textLength="24" lengthAdjust="spacingAndGlyphs">Apr</text>
<text x="375.1" y="726.4" textLength="6.8" lengthAdjust="spacingAndGlyphs">3</text>
<text x="461.9" y="726.4" textLength="6.8" lengthAdjust="spacingAndGlyphs">7</text>
<text x="548.6" y="726.4" textLength="6.8" lengthAdjust="spacingAndGlyphs">9</text>
<text x="632.2" y="726.4" textLength="13.6" lengthAdjust="spacingAndGlyphs">11</text>
<text x="719.2" y="726.4" textLength="13.6" lengthAdjust="spacingAndGlyphs">15</text>
<text x="806.2" y="726.4" textLength="13.6" lengthAdjust="spacingAndGlyphs">17</text>
<text x="893.2" y="726.4" textLength="13.6" lengthAdjust="spacingAndGlyphs">22</text>
<text x="980.2" y="726.4" textLength="13.6" lengthAdjust="spacingAndGlyphs">24</text>
<text x="1067.2" y="726.4" textLength="13.6" lengthAdjust="spacingAndGlyphs">28</text>
<text x="1190.2" y="726.4" font-weight="bold" textLength="27.5" lengthAdjust="spacingAndGlyphs">May</text>
<text x="1287.6" y="726.4" textLength="6.8" lengthAdjust="spacingAndGlyphs">5</text>
<text x="1374.5" y="726.4" textLength="6.8" lengthAdjust="spacingAndGlyphs">7</text>
</g>
<rect x="1429.5" y="37.5" width="52" height="31" rx="6" fill="none" stroke="#2c2c2c" stroke-width="1.6"/>
<text x="1440.3" y="57.6" font-family="Liberation Sans, sans-serif" font-size="15" fill="#d6d6d6" textLength="25" lengthAdjust="spacingAndGlyphs">USD</text>
<rect x="1425.5" y="301.3" width="57" height="19.8" rx="2" fill="#f23645"/>
<text x="1435.8" y="317" font-family="Liberation Sans, sans-serif" font-size="15" fill="#ffffff" textLength="41.3" lengthAdjust="spacingAndGlyphs">67.456</text>
<rect x="1425.5" y="459.5" width="57" height="37.4" rx="2" fill="#f23645"/>
<text x="1435.8" y="475.4" font-family="Liberation Sans, sans-serif" font-size="15" fill="#ffffff" textLength="41.3" lengthAdjust="spacingAndGlyphs">61.445</text>
<text x="1437.5" y="492.3" font-family="Liberation Sans, sans-serif" font-size="15" fill="#ffdfe2" textLength="33.2" lengthAdjust="spacingAndGlyphs">12:13</text>
<circle cx="1349" cy="687.7" r="11.6" fill="none" stroke="#ab47bc" stroke-width="2"/>
<circle cx="1357" cy="679.4" r="5.2" fill="#101010"/>
<circle cx="1357" cy="679.4" r="3.3" fill="#f23645"/>
<path d="M1352.6,681.3 L1343.6,688.7 L1348.6,688.7 L1345.1,694.5 L1354.3,686.6 L1349.4,686.6 Z" fill="#ab47bc" stroke="#ab47bc" stroke-width="0.7" stroke-linejoin="round"/>
<circle cx="1406.6" cy="687.9" r="12.2" fill="none" stroke="#f23645" stroke-width="2"/>
<clipPath id="fc"><circle cx="1406.5" cy="687.7" r="9.7"/></clipPath>
<g clip-path="url(#fc)">
<rect x="1396" y="677" width="22" height="22" fill="#f2f2f2"/>
<rect x="1396" y="677" width="22" height="5.6" fill="#f05252"/>
<rect x="1396" y="685.9" width="22" height="4" fill="#f05252"/>
<rect x="1396" y="693.4" width="22" height="5" fill="#f05252"/>
<rect x="1396" y="677" width="12.5" height="12.9" fill="#3590ee"/>
<g fill="#cfe3fb"><circle cx="1402.6" cy="681" r="0.6"/><circle cx="1405.7" cy="681" r="0.6"/><circle cx="1399.3" cy="684.2" r="0.6"/><circle cx="1402.6" cy="684.2" r="0.6"/><circle cx="1405.7" cy="684.2" r="0.6"/><circle cx="1399.3" cy="687.4" r="0.6"/><circle cx="1402.6" cy="687.4" r="0.6"/><circle cx="1405.7" cy="687.4" r="0.6"/></g>
</g>
<g fill="#d6d6d6">
<path d="M12.5,752.8 H21.8 V764.5 H16.9 V757.4 H12.5 Z"/>
<circle cx="25.9" cy="755.4" r="2.5"/>
<path d="M31,752.8 H36.1 L31.9,764.5 H26.2 Z"/>
</g>
<text x="40.3" y="764.7" font-family="Liberation Sans, sans-serif" font-size="15" fill="#b4b4b4" textLength="87" lengthAdjust="spacingAndGlyphs">TradingView</text>
</svg>
</body></html>
